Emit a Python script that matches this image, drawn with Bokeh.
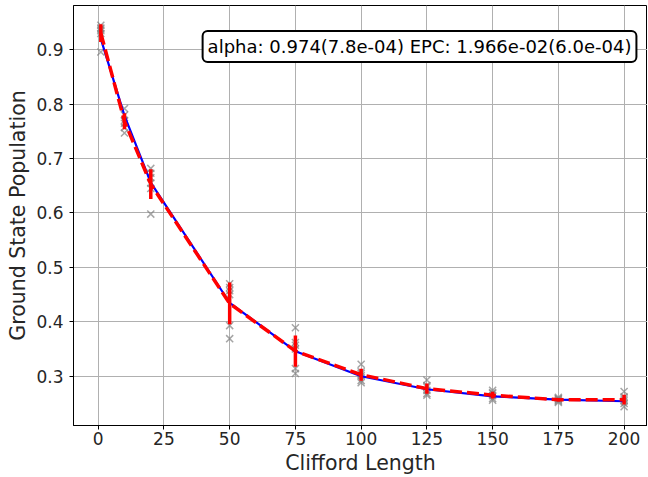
import numpy as np
from bokeh.plotting import figure
from bokeh.models import FixedTicker, Label, ColumnDataSource
from bokeh.embed import file_html
from bokeh.resources import INLINE

# ---- data ----
lengths = [1, 10, 20, 50, 75, 100, 125, 150, 175, 200]
seed_1 = [0.945, 0.940, 0.935, 0.930, 0.896, 0.938]
seed_10 = [0.792, 0.780, 0.765, 0.757, 0.747, 0.770]
seed_20 = [0.682, 0.673, 0.655, 0.645, 0.598, 0.665]
seed_50 = [0.470, 0.463, 0.457, 0.393, 0.369, 0.450]
seed_75 = [0.389, 0.362, 0.357, 0.314, 0.305, 0.350]
seed_100 = [0.322, 0.308, 0.301, 0.292, 0.288, 0.305]
seed_125 = [0.293, 0.283, 0.274, 0.268, 0.265, 0.280]
seed_150 = [0.274, 0.268, 0.264, 0.259, 0.256, 0.270]
seed_175 = [0.261, 0.258, 0.256, 0.254, 0.252, 0.259]
seed_200 = [0.272, 0.262, 0.255, 0.250, 0.244, 0.258]
seeds = [seed_1, seed_10, seed_20, seed_50, seed_75,
         seed_100, seed_125, seed_150, seed_175, seed_200]
fit_values = [0.920, 0.779, 0.656, 0.435, 0.346, 0.300, 0.276, 0.263, 0.257, 0.254]
x_ticks = [0, 25, 50, 75, 100, 125, 150, 175, 200]
y_ticks = [0.3, 0.4, 0.5, 0.6, 0.7, 0.8, 0.9]
annotation = "alpha: 0.974(7.8e-04) EPC: 1.966e-02(6.0e-04)"
x_label = "Clifford Length"
y_label = "Ground State Population"

# ---- derived ----
means = [float(np.mean(s)) for s in seeds]
stds = [float(np.std(s)) for s in seeds]
pts_x = [l for l, s in zip(lengths, seeds) for _ in s]
pts_y = [v for s in seeds for v in s]

p = figure(width=647, height=477, output_backend="svg", toolbar_location=None,
           x_range=(-9.39, 208.9), y_range=(0.2094, 0.9814),
           min_border_left=73, min_border_right=0, min_border_top=5,
           min_border_bottom=52, background_fill_color="white",
           border_fill_color="white")

p.outline_line_color = "black"
p.outline_line_width = 1
p.outline_line_alpha = 1

for ax in (p.xaxis[0], p.yaxis[0]):
    ax.axis_line_color = "black"
    ax.major_tick_line_color = "black"
    ax.major_tick_out = 4
    ax.major_tick_in = 0
    ax.minor_tick_line_color = None
    ax.major_label_text_font = "DejaVu Sans"
    ax.major_label_text_font_size = "17px"
    ax.major_label_text_color = "#262626"
    ax.axis_label_text_font = "DejaVu Sans"
    ax.axis_label_text_font_size = "20.5px"
    ax.axis_label_text_font_style = "normal"
    ax.axis_label_text_color = "#262626"

p.xaxis.ticker = FixedTicker(ticks=x_ticks)
p.yaxis.ticker = FixedTicker(ticks=y_ticks)
p.xaxis.axis_label = x_label
p.yaxis.axis_label = y_label
p.xaxis.major_label_standoff = 2
p.yaxis.major_label_standoff = 6
p.xaxis.axis_label_standoff = 3
p.yaxis.axis_label_standoff = 3

p.grid.grid_line_color = "#b0b0b0"
p.grid.grid_line_width = 1
p.grid.grid_line_alpha = 1

# raw seed points
p.scatter(pts_x, pts_y, marker="x", size=10, line_color="gray",
          line_alpha=0.7, line_width=1.5)

# fit line
p.line(lengths, fit_values, line_color="blue", line_width=2.2)

# mean line with error bars
p.line(lengths, means, line_color="red", line_width=3.5, line_dash="12 5")
src = ColumnDataSource(dict(x=lengths,
                            lo=[m - s for m, s in zip(means, stds)],
                            hi=[m + s for m, s in zip(means, stds)]))
p.segment(x0="x", y0="lo", x1="x", y1="hi", source=src,
          line_color="red", line_width=3.5)

lab = Label(x=122.2, y=0.906, text=annotation, text_align="center",
            text_baseline="middle", text_font="DejaVu Sans",
            text_font_size="18px", text_color="black",
            background_fill_color="white", background_fill_alpha=1,
            border_line_color="black", border_line_width=2,
            border_radius=5, padding=5)
p.add_layout(lab)

open("out.html", "w").write(file_html(p, INLINE))
